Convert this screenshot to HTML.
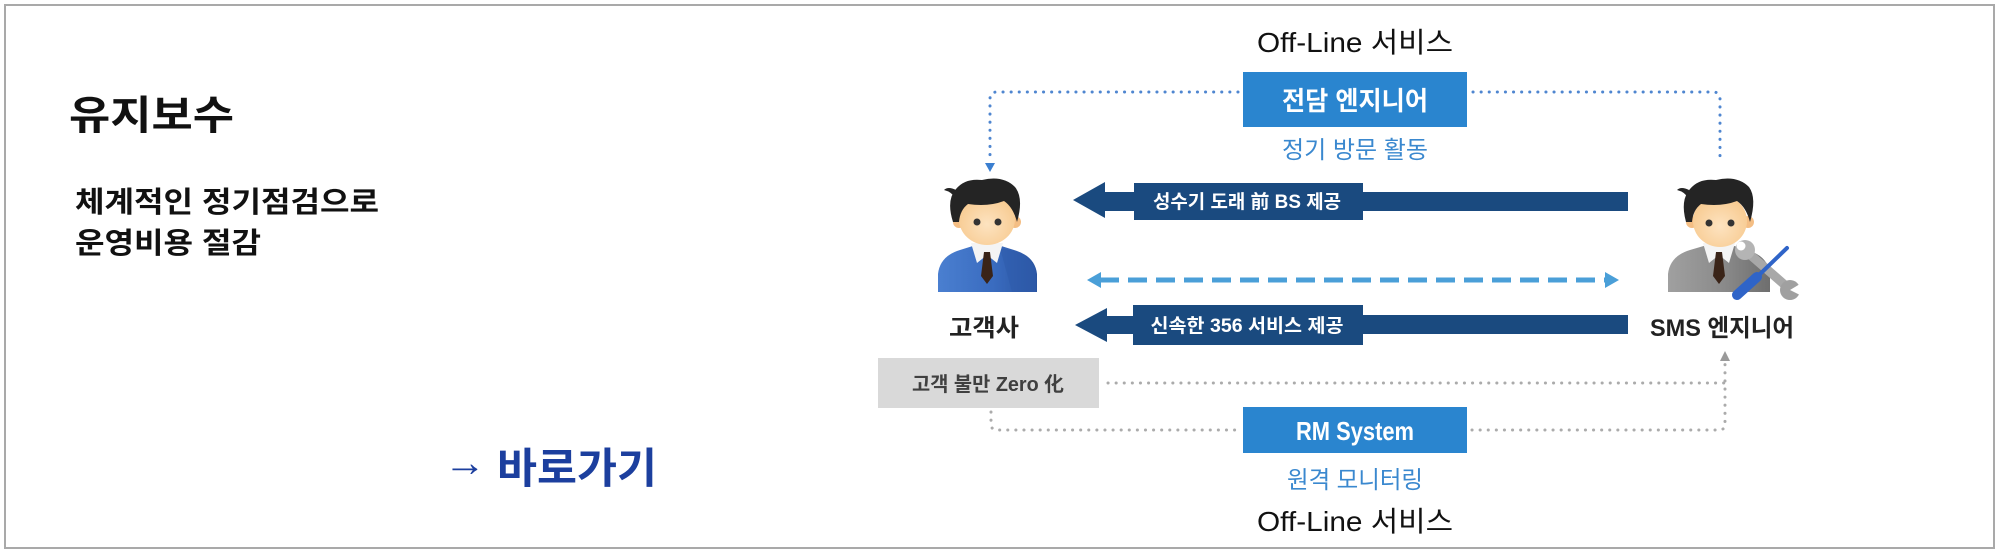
<!DOCTYPE html>
<html>
<head>
<meta charset="utf-8">
<style>
  html,body{margin:0;padding:0;background:#fff;}
  body{width:2000px;height:554px;overflow:hidden;position:relative;}
  svg{position:absolute;left:0;top:0;}
  text{font-family:"Liberation Sans","Noto Sans CJK KR",sans-serif;}
</style>
</head>
<body>
<svg width="2000" height="554" viewBox="0 0 2000 554" xmlns="http://www.w3.org/2000/svg">
  <defs>
    <linearGradient id="suitBlue" x1="0" y1="0" x2="1" y2="0">
      <stop offset="0" stop-color="#4a7fd0"/>
      <stop offset="0.55" stop-color="#3a6cc0"/>
      <stop offset="1" stop-color="#2a54a0"/>
    </linearGradient>
    <linearGradient id="suitGray" x1="0" y1="0" x2="1" y2="0">
      <stop offset="0" stop-color="#a0a0a0"/>
      <stop offset="0.55" stop-color="#8a8a8a"/>
      <stop offset="1" stop-color="#6e6e6e"/>
    </linearGradient>
    <radialGradient id="skin" cx="0.5" cy="0.6" r="0.6">
      <stop offset="0" stop-color="#fde3c0"/>
      <stop offset="1" stop-color="#f7c98e"/>
    </radialGradient>
  </defs>

  <!-- outer frame -->
  <rect x="5" y="5" width="1989" height="543" fill="#fff" stroke="#a9a9a9" stroke-width="2"/>

  <!-- left texts -->
  <text x="69" y="129" font-size="40" font-weight="700" fill="#111" textLength="165" lengthAdjust="spacingAndGlyphs">유지보수</text>
  <text x="75" y="212" font-size="29" font-weight="700" fill="#111" textLength="304" lengthAdjust="spacingAndGlyphs">체계적인 정기점검으로</text>
  <text x="75" y="253" font-size="29" font-weight="700" fill="#111" textLength="186" lengthAdjust="spacingAndGlyphs">운영비용 절감</text>

  <text x="444" y="476" font-size="40" fill="#1c3f9e" textLength="42" lengthAdjust="spacingAndGlyphs">→</text>
  <text x="497" y="483" font-size="42" font-weight="700" fill="#1c3f9e" textLength="160" lengthAdjust="spacingAndGlyphs">바로가기</text>

  <!-- top labels -->
  <text x="1355" y="52" font-size="28" fill="#111" text-anchor="middle" textLength="196" lengthAdjust="spacingAndGlyphs">Off-Line 서비스</text>
  <rect x="1243" y="72" width="224" height="55" fill="#2a85cf"/>
  <text x="1355" y="110" font-size="26" font-weight="700" fill="#fff" text-anchor="middle" textLength="146" lengthAdjust="spacingAndGlyphs">전담 엔지니어</text>
  <text x="1355" y="158" font-size="24" fill="#3a88cf" text-anchor="middle" textLength="146" lengthAdjust="spacingAndGlyphs">정기 방문 활동</text>

  <!-- blue dotted connectors -->
  <g fill="none" stroke="#4f86d0" stroke-width="3" stroke-linecap="round" stroke-dasharray="0.1 8">
    <path d="M1238 92 H997 Q990 92 990 99 V158"/>
    <path d="M1473 92 H1713 Q1720 92 1720 99 V157"/>
  </g>
  <polygon points="985,163 995,163 990,172" fill="#3b7fd0"/>

  <!-- navy arrow 1 -->
  <g fill="#1a4a7f">
    <polygon points="1073,200 1105,182 1105,218"/>
    <rect x="1104" y="192" width="31" height="19"/>
    <rect x="1134" y="183" width="229" height="37"/>
    <rect x="1362" y="192" width="266" height="19"/>
  </g>
  <text x="1247" y="208" font-size="19" font-weight="700" fill="#fff" text-anchor="middle" textLength="188" lengthAdjust="spacingAndGlyphs">성수기 도래 前 BS 제공</text>

  <!-- dashed double arrow -->
  <line x1="1100" y1="280" x2="1606" y2="280" stroke="#4a9fd8" stroke-width="5" stroke-dasharray="19 9"/>
  <polygon points="1087,280 1101,272 1101,288" fill="#4a9fd8"/>
  <polygon points="1619,280 1605,272 1605,288" fill="#4a9fd8"/>

  <!-- navy arrow 2 -->
  <g fill="#1a4a7f">
    <polygon points="1075,325 1107,308 1107,342"/>
    <rect x="1106" y="316" width="28" height="18"/>
    <rect x="1133" y="305" width="230" height="40"/>
    <rect x="1362" y="315" width="266" height="19"/>
  </g>
  <text x="1247" y="332" font-size="19" font-weight="700" fill="#fff" text-anchor="middle" textLength="193" lengthAdjust="spacingAndGlyphs">신속한 356 서비스 제공</text>

  <!-- node labels -->
  <text x="984" y="336" font-size="24" font-weight="700" fill="#222" text-anchor="middle" textLength="70" lengthAdjust="spacingAndGlyphs">고객사</text>
  <text x="1722" y="336" font-size="24" font-weight="700" fill="#222" text-anchor="middle" textLength="144" lengthAdjust="spacingAndGlyphs">SMS 엔지니어</text>

  <!-- gray box -->
  <rect x="878" y="358" width="221" height="50" fill="#d9d9d9"/>
  <text x="988" y="391" font-size="20" font-weight="700" fill="#404040" text-anchor="middle" textLength="152" lengthAdjust="spacingAndGlyphs">고객 불만 Zero 化</text>

  <!-- gray dotted connectors -->
  <g fill="none" stroke="#ababab" stroke-width="3" stroke-linecap="round" stroke-dasharray="0.1 8">
    <path d="M1108 383 H1725"/>
    <path d="M991 412 V424 Q991 430 997 430 H1238"/>
    <path d="M1472 430 H1719 Q1725 430 1725 424 V362"/>
  </g>
  <polygon points="1720,361 1730,361 1725,351" fill="#9a9a9a"/>

  <!-- RM box -->
  <rect x="1243" y="407" width="224" height="46" fill="#2a85cf"/>
  <text x="1355" y="440" font-size="26" font-weight="700" fill="#fff" text-anchor="middle" textLength="118" lengthAdjust="spacingAndGlyphs">RM System</text>
  <text x="1355" y="488" font-size="24" fill="#3a88cf" text-anchor="middle" textLength="136" lengthAdjust="spacingAndGlyphs">원격 모니터링</text>
  <text x="1355" y="531" font-size="28" fill="#111" text-anchor="middle" textLength="196" lengthAdjust="spacingAndGlyphs">Off-Line 서비스</text>

  <!-- left person (blue suit) -->
  <g>
    <path d="M938 292 L938 274 Q940 256 960 250 L976 245 L998 245 L1014 250 Q1035 256 1037 274 L1037 292 Z" fill="url(#suitBlue)"/>
    <path d="M1000 248 L1014 251 Q1034 258 1036 274 L1036 292 L1012 292 Z" fill="#2f5cab" opacity="0.6"/>
    <polygon points="971,243 1003,243 997,263 987,255 977,263" fill="#f4f4f4"/>
    <polygon points="984,252 990,252 993,276 987,284 981,276" fill="#3a2418"/>
    <circle cx="959" cy="222" r="6" fill="#f4be84"/>
    <circle cx="1015" cy="222" r="6" fill="#f4be84"/>
    <ellipse cx="987" cy="219" rx="28" ry="26" fill="url(#skin)"/>
    <path d="M953 222 Q946 200 956 189 Q965 178 982 180 Q1003 175 1015 187 Q1024 198 1017 222 Q1013 207 1004 201 Q988 207 968 204 Q960 210 959 222 Z" fill="#242424"/>
    <path d="M956 190 Q948 186 944 190 Q952 192 955 198 Z" fill="#242424"/>
    <circle cx="977" cy="222" r="3.5" fill="#333"/>
    <circle cx="998" cy="222" r="3.5" fill="#333"/>
  </g>

  <!-- right person (gray suit + tools) -->
  <g>
    <path d="M1668 292 L1668 274 Q1670 256 1690 250 L1707 245 L1731 245 L1747 250 Q1768 256 1770 274 L1770 292 Z" fill="url(#suitGray)"/>
    <polygon points="1703,243 1735,243 1729,263 1719,255 1709,263" fill="#f4f4f4"/>
    <polygon points="1716,252 1722,252 1725,276 1719,284 1713,276" fill="#3a2418"/>
    <circle cx="1692" cy="222" r="6" fill="#f4be84"/>
    <circle cx="1748" cy="222" r="6" fill="#f4be84"/>
    <ellipse cx="1720" cy="221" rx="27" ry="26" fill="url(#skin)"/>
    <path d="M1686 222 Q1680 200 1690 189 Q1699 178 1716 180 Q1737 175 1749 187 Q1757 198 1750 222 Q1746 207 1737 201 Q1721 207 1701 204 Q1693 210 1692 222 Z" fill="#242424"/>
    <path d="M1689 190 Q1681 186 1677 190 Q1685 192 1688 198 Z" fill="#242424"/>
    <circle cx="1709" cy="223" r="3.5" fill="#333"/>
    <circle cx="1731" cy="223" r="3.5" fill="#333"/>
    <!-- wrench -->
    <line x1="1747" y1="252" x2="1786" y2="286" stroke="#a8a8a8" stroke-width="9" stroke-linecap="round"/>
    <circle cx="1745" cy="250" r="10" fill="#b4b4b4"/>
    <circle cx="1741" cy="246" r="4.5" fill="#fff"/>
    <circle cx="1790" cy="290" r="10" fill="#a0a0a0"/>
    <polygon points="1790,290 1800,284 1802,296" fill="#fff"/>
    <!-- screwdriver -->
    <line x1="1758" y1="276" x2="1787" y2="248" stroke="#2f64c8" stroke-width="4" stroke-linecap="round"/>
    <line x1="1737" y1="295" x2="1757" y2="277" stroke="#2f64c8" stroke-width="10" stroke-linecap="round"/>
  </g>
</svg>
</body>
</html>
